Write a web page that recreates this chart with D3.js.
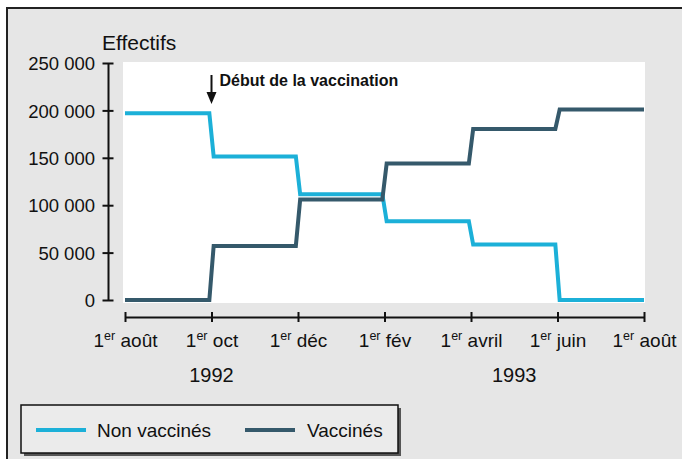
<!DOCTYPE html>
<html>
<head>
<meta charset="utf-8">
<script src="https://cdn.jsdelivr.net/npm/d3@7"></script>
<style>
  html, body { margin: 0; padding: 0; background: #ffffff; }
  svg { display: block; }
  text { font-family: "Liberation Sans", Arial, Helvetica, sans-serif; fill: #111; }
</style>
</head>
<body>
<svg id="chart" width="682" height="459"></svg>
<script>
// ---------- DATA ----------
const tickMonths = [0, 2, 4, 6, 8, 10, 12];
const tickLabels = ["août", "oct", "déc", "fév", "avril", "juin", "août"];
const yTicks = [0, 50000, 100000, 150000, 200000, 250000];
const yTickLabels = ["0", "50 000", "100 000", "150 000", "200 000", "250 000"];
const years = ["1992", "1993"];
const yearMonths = [2, 9];
const periodStarts = [0, 2, 4, 6, 8, 10];
const nonVaccines = [197000, 151500, 111500, 83000, 58500, 0];
const vaccines = [0, 57000, 106000, 144000, 180500, 201000];
const seriesNames = ["Non vaccinés", "Vaccinés"];
const annotationText = "Début de la vaccination";
const annotationMonth = 2;
const yTitle = "Effectifs";

// ---------- STYLE ----------
const cyan = "#1cb0d8";
const dark = "#35596b";
const bg = "#e6e6e6";

const svg = d3.select("#chart");

// frame background
svg.append("rect").attr("x", 7).attr("y", 8).attr("width", 682 - 7).attr("height", 459 - 8).attr("fill", bg);
svg.append("path").attr("d", "M7,459 V8 H682").attr("fill", "none").attr("stroke", "#222").attr("stroke-width", 2);

const x = d3.scaleLinear().domain([0, 12]).range([125, 644]);
const y = d3.scaleLinear().domain([0, 250000]).range([300, 63]);

// white plot area
svg.append("rect")
  .attr("x", x(0) - 2).attr("y", y(250000) - 1)
  .attr("width", x(12) - x(0) + 3).attr("height", y(0) - y(250000) + 4)
  .attr("fill", "#ffffff");

// Y axis
const yAxis = d3.axisLeft(y).tickValues(yTicks).tickSize(5).tickSizeOuter(0)
  .tickFormat((d, i) => yTickLabels[i]);
const gy = svg.append("g").attr("transform", "translate(108,0)").call(yAxis);
gy.select(".domain").attr("stroke", "#111").attr("stroke-width", 2);
gy.selectAll(".tick line").attr("x1", -5.5).attr("x2", 5.5).attr("stroke", "#111").attr("stroke-width", 2);
gy.selectAll(".tick text").attr("x", -13).attr("dy", "0.36em")
  .style("font-size", "18.5px").style("font-family", "Liberation Sans, Arial, sans-serif").attr("fill", "#111");

// Y title
svg.append("text").attr("x", 102).attr("y", 50).style("font-size", "21px").text(yTitle);

// X axis
const xAxis = d3.axisBottom(x).tickValues(tickMonths).tickSize(5).tickSizeOuter(0).tickFormat("");
const gx = svg.append("g").attr("transform", "translate(0,317)").call(xAxis);
gx.select(".domain").attr("stroke", "#111").attr("stroke-width", 2);
gx.selectAll(".tick line").attr("y1", -5).attr("y2", 5).attr("stroke", "#111").attr("stroke-width", 2);
gx.selectAll(".tick text").each(function(d, i) {
  const t = d3.select(this);
  t.attr("y", 30).attr("dy", 0).attr("text-anchor", "middle")
    .style("font-size", "19px").style("font-family", "Liberation Sans, Arial, sans-serif").attr("fill", "#111");
  t.text(null);
  t.append("tspan").text("1");
  t.append("tspan").attr("dy", -7).style("font-size", "12.5px").text("er");
  t.append("tspan").attr("dy", 7).text("\u00a0" + tickLabels[i]);
});

// years
svg.selectAll(".year").data(years).enter().append("text")
  .attr("class", "year")
  .attr("x", (d, i) => x(yearMonths[i]))
  .attr("y", 382)
  .attr("text-anchor", "middle")
  .style("font-size", "20px")
  .text(d => d);

// step lines
const ramp = 0.05;
function stepPoints(vals) {
  const pts = [];
  vals.forEach((v, i) => {
    const s = periodStarts[i] + (i > 0 ? ramp : 0);
    const e = periodStarts[i] + 2 - (i < vals.length - 1 ? ramp : 0);
    pts.push([s, v], [e, v]);
  });
  return pts;
}
const line = d3.line().x(d => x(d[0])).y(d => y(d[1]));
svg.append("path").attr("d", line(stepPoints(nonVaccines)))
  .attr("fill", "none").attr("stroke", cyan).attr("stroke-width", 4).attr("stroke-linejoin", "miter");
svg.append("path").attr("d", line(stepPoints(vaccines)))
  .attr("fill", "none").attr("stroke", dark).attr("stroke-width", 4).attr("stroke-linejoin", "miter");

// annotation
const ax = x(annotationMonth);
svg.append("line").attr("x1", ax).attr("x2", ax).attr("y1", 75).attr("y2", 94)
  .attr("stroke", "#111").attr("stroke-width", 2);
svg.append("path").attr("d", `M${ax - 5},${92} L${ax + 5},${92} L${ax},${104} Z`).attr("fill", "#111");
svg.append("text").attr("x", ax + 8).attr("y", 86)
  .style("font-size", "16px").style("font-weight", "bold").text(annotationText);

// legend
const lg = svg.append("g");
lg.append("rect").attr("x", 24).attr("y", 408).attr("width", 377).attr("height", 48).attr("fill", "#555");
lg.append("rect").attr("x", 21).attr("y", 405).attr("width", 377).attr("height", 48)
  .attr("fill", "#ebebeb").attr("stroke", "#111").attr("stroke-width", 1.5);
const legendItems = [
  { name: seriesNames[0], color: cyan, lx: 36, tx: 97 },
  { name: seriesNames[1], color: dark, lx: 245, tx: 307 }
];
legendItems.forEach(it => {
  lg.append("line").attr("x1", it.lx).attr("x2", it.lx + 50).attr("y1", 430).attr("y2", 430)
    .attr("stroke", it.color).attr("stroke-width", 4);
  lg.append("text").attr("x", it.tx).attr("y", 437).style("font-size", "19px").text(it.name);
});
</script>
</body>
</html>
